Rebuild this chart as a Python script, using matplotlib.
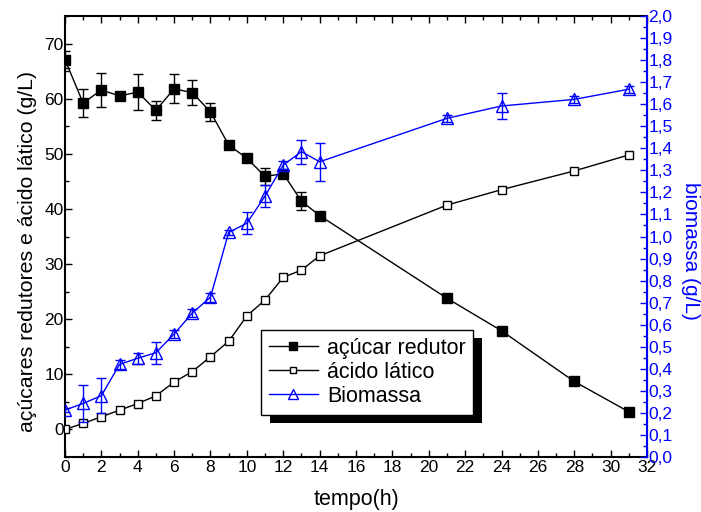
import numpy as np
import matplotlib
matplotlib.use("Agg")
import matplotlib.pyplot as plt
from matplotlib.ticker import MultipleLocator, FuncFormatter
from matplotlib.lines import Line2D
import matplotlib.patches as patches

plt.rcParams['font.family'] = ['Liberation Sans', 'DejaVu Sans']

# ── data ────────────────────────────────────────────────────────
tempo_acucar = [0, 1, 2, 3, 4, 5, 6, 7, 8, 9, 10, 11, 12, 13, 14, 21, 24, 28, 31]
acucar = [67.1, 59.2, 61.6, 60.5, 61.2, 57.9, 61.8, 61.1, 57.6, 51.6, 49.2,
          45.9, 46.4, 41.4, 38.8, 23.8, 17.9, 8.7, 3.2]
acucar_err = [1.5, 2.5, 3.1, 0.5, 3.3, 1.7, 2.6, 2.3, 1.6, 0.3, 0.3,
              1.6, 0.6, 1.6, 0.3, 0.3, 0.3, 0.3, 0.3]

tempo_acido = [0, 1, 2, 3, 4, 5, 6, 7, 8, 9, 10, 11, 12, 13, 14, 21, 24, 28, 31]
acido = [0.0, 1.1, 2.3, 3.5, 4.7, 6.1, 8.6, 10.5, 13.2, 16.0, 20.6,
         23.5, 27.6, 28.9, 31.5, 40.7, 43.5, 46.9, 49.8]

tempo_bio = [0, 1, 2, 3, 4, 5, 6, 7, 8, 9, 10, 11, 12, 13, 14, 21, 24, 28, 31]
biomassa = [0.213, 0.243, 0.278, 0.42, 0.448, 0.473, 0.558, 0.653, 0.725,
            1.019, 1.06, 1.184, 1.324, 1.385, 1.339, 1.536, 1.592, 1.622, 1.668]
biomassa_err = [0.01, 0.085, 0.08, 0.02, 0.025, 0.05, 0.02, 0.02, 0.02,
                0.01, 0.05, 0.05, 0.02, 0.055, 0.087, 0.015, 0.058, 0.015, 0.015]

xticks = np.arange(0, 33, 2)

# ── figure ──────────────────────────────────────────────────────
fig = plt.figure(figsize=(7.01, 5.12), dpi=100)
ax = fig.add_axes([0.0927, 0.1074, 0.8303, 0.8613])
ax2 = ax.twinx()

ax.errorbar(tempo_acucar, acucar, yerr=acucar_err, color='black', lw=1,
            marker='s', ms=7.5, mfc='black', mec='black', capsize=3.5,
            elinewidth=1, capthick=1, zorder=3)
ax.plot(tempo_acido, acido, color='black', lw=1, marker='s', ms=6,
        mfc='white', mec='black', mew=1, zorder=3)
ax2.errorbar(tempo_bio, biomassa, yerr=biomassa_err, color='blue', lw=1,
             marker='^', ms=8, mfc='none', mec='blue', mew=1, capsize=3.5,
             elinewidth=1, capthick=1)

ax.set_xlim(0, 32)
ax.set_ylim(-5, 75)
ax2.set_ylim(0, 2.0)

ax.set_xticks(xticks)
ax.xaxis.set_minor_locator(MultipleLocator(1))
ax.set_yticks(np.arange(0, 71, 10))
ax.yaxis.set_minor_locator(MultipleLocator(5))
ax2.yaxis.set_major_locator(MultipleLocator(0.1))
ax2.yaxis.set_minor_locator(MultipleLocator(0.05))
ax2.yaxis.set_major_formatter(FuncFormatter(lambda v, p: f"{v:.1f}".replace('.', ',')))

ax.tick_params(which='both', direction='in', top=True, right=False, labelsize=12.5)
ax.tick_params(axis='y', pad=1)
ax.tick_params(axis='x', pad=2)
ax.tick_params(which='major', length=5, width=1)
ax.tick_params(which='minor', length=3, width=1)
ax2.tick_params(which='both', direction='in', colors='blue', labelsize=12.5, pad=1)
ax2.tick_params(which='major', length=5, width=1)
ax2.tick_params(which='minor', length=3, width=1)

for s in ['left', 'top', 'bottom']:
    ax.spines[s].set_linewidth(1.5)
ax2.spines['right'].set_color('blue')
ax2.spines['right'].set_linewidth(1.5)
for s in ['left', 'top', 'bottom']:
    ax2.spines[s].set_visible(False)

ax.set_xlabel('tempo(h)', fontsize=15.5, labelpad=10)
ax.set_ylabel('açúcares redutores e ácido lático (g/L)', fontsize=15.3,
              va='center')
ax.yaxis.set_label_coords(-0.065, 0.467)
ax2.set_ylabel('biomassa (g/L)', fontsize=15, color='blue', rotation=270,
               va='center')
ax2.yaxis.set_label_coords(1.074, 0.467)

# legend with a hard black shadow
handles = [
    Line2D([], [], color='black', lw=1, marker='s', ms=6, mfc='black', mec='black'),
    Line2D([], [], color='black', lw=1, marker='s', ms=4.5, mfc='white', mec='black'),
    Line2D([], [], color='blue', lw=1, marker='^', ms=6.5, mfc='none', mec='blue'),
]
labels = ['açúcar redutor', 'ácido lático', 'Biomassa']
leg = ax2.legend(handles, labels, loc='upper left', bbox_to_anchor=(0.337, 0.288),
                 borderaxespad=0, fontsize=15.5, frameon=True, fancybox=False,
                 edgecolor='black', framealpha=1, handlelength=2.3,
                 handletextpad=0.4, labelspacing=0.15, borderpad=0.35,
                 numpoints=1)
leg.get_frame().set_linewidth(1)
leg.set_zorder(10)

fig.canvas.draw()
bb = leg.get_window_extent()
shadow = patches.Rectangle((bb.x0 + 9, bb.y0 - 8), bb.width, bb.height,
                           transform=None, facecolor='black', edgecolor='none',
                           zorder=9)
ax2.add_artist(shadow)

fig.savefig('out.png', dpi=100)
